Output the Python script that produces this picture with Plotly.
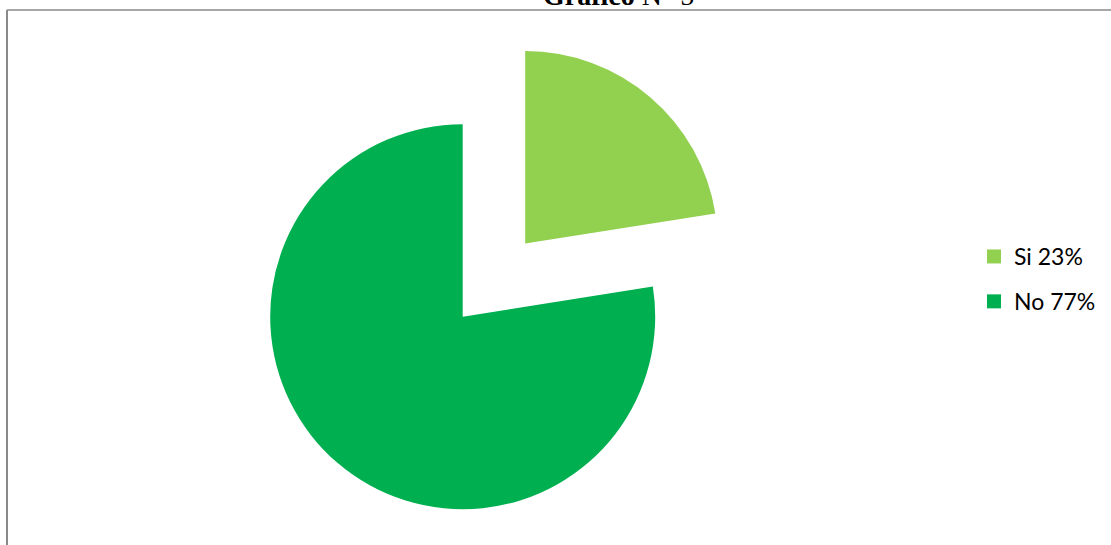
import math
import plotly.graph_objects as go

# ---- data ----
labels = ["Si 23%", "No 77%"]
values = [22.5, 77.5]          # (~81 deg for "Si")
colors = ["#92D050", "#00B050"]
title_text = "<b>Gráfico</b> N° 5"

# ---- layout constants ----
W, H = 1111, 545
cx, cy, r = 462.7, 316.7, 192.5   # centre/radius of the un-pulled pie (px)
pull = 0.5                          # pull of the first slice (fraction of radius)

total = sum(values)
mid = math.radians(360.0 * values[0] / total / 2.0)
ox = pull * r * math.sin(mid)
oy = pull * r * math.cos(mid)


def dom(x, y):
    return dict(x=[(x - r) / W, (x + r) / W], y=[1 - (y + r) / H, 1 - (y - r) / H])


fig = go.Figure()
# main pie: only the "No" slice visible
fig.add_trace(go.Pie(
    labels=labels, values=values, sort=False, direction="clockwise", rotation=0,
    marker=dict(colors=["rgba(0,0,0,0)", colors[1]], line=dict(width=0)),
    textinfo="none", hoverinfo="label", showlegend=False,
    domain=dom(cx, cy),
))
# exploded pie: only the "Si" slice visible, shifted along its mid-angle
fig.add_trace(go.Pie(
    labels=labels, values=values, sort=False, direction="clockwise", rotation=0,
    marker=dict(colors=[colors[0], "rgba(0,0,0,0)"], line=dict(width=0)),
    textinfo="none", hoverinfo="label", showlegend=False,
    domain=dom(cx + ox, cy - oy),
))
# legend entries
for lab, col in zip(labels, colors):
    fig.add_trace(go.Scatter(
        x=[None], y=[None], mode="markers", name=lab, legendgroup=lab,
        marker=dict(symbol="square", size=14, color=col),
    ))

fig.add_annotation(
    text=title_text, xref="paper", yref="paper", x=618 / W, y=1 - 13 / H,
    xanchor="center", yanchor="bottom", showarrow=False,
    font=dict(family="Liberation Serif", size=28, color="black"),
)

line_col = "#8a8a8a"
fig.add_shape(type="line", xref="paper", yref="paper",
              x0=7 / W, x1=1, y0=1 - 10 / H, y1=1 - 10 / H,
              line=dict(color=line_col, width=1.5))
fig.add_shape(type="line", xref="paper", yref="paper",
              x0=7 / W, x1=7 / W, y0=0, y1=1 - 10 / H,
              line=dict(color=line_col, width=2))

fig.update_layout(
    width=W, height=H,
    margin=dict(l=0, r=0, t=0, b=0, autoexpand=False),
    paper_bgcolor="white", plot_bgcolor="white",
    xaxis=dict(visible=False), yaxis=dict(visible=False),
    showlegend=True,
    legend=dict(
        x=974 / W, y=1 - 279 / H, xanchor="left", yanchor="middle",
        font=dict(family="Lato", size=23, color="black"),
        tracegroupgap=12, bgcolor="rgba(0,0,0,0)",
    ),
)

fig.write_html("out.html")
